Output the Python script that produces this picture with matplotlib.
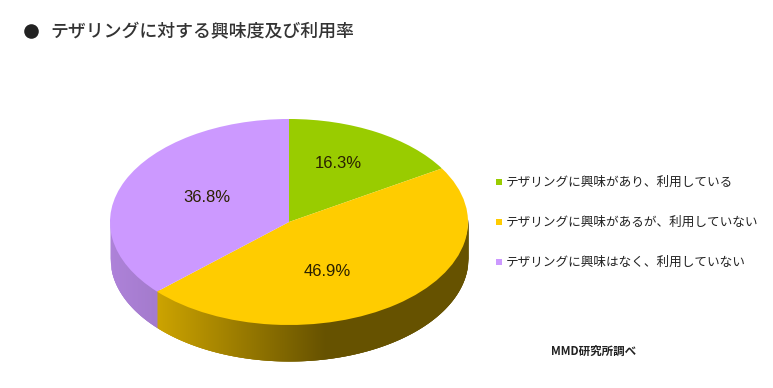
import numpy as np
from matplotlib import pyplot as plt
from matplotlib.colors import to_rgb

plt.rcParams['font.family'] = ['Noto Sans CJK JP', 'DejaVu Sans']

title = "テザリングに対する興味度及び利用率"
labels = ["テザリングに興味があり、利用している",
          "テザリングに興味があるが、利用していない",
          "テザリングに興味はなく、利用していない"]
values = [16.3, 46.9, 36.8]
colors = ["#99CC00", "#FFCC00", "#CC99FF"]
source = "MMD研究所調べ"

# pie geometry in pixels
cx, cy, rx, ry, depth = 289, 222, 179, 103, 36

fig = plt.figure(figsize=(7.73, 3.88), dpi=100)
ax = fig.add_axes([0, 0, 1, 1])
ax.set_xlim(0, 773)
ax.set_ylim(388, 0)
ax.axis("off")


def front_edge(x):
    u = np.clip((x - cx) / rx, -1, 1)
    return cy + ry * np.sqrt(1 - u * u)


# side of the pie, one column at a time for the gradient
edges = np.cumsum(values) / np.sum(values) * 360
for x in np.arange(cx - rx, cx + rx, 1.0):
    u = (x + 0.5 - cx) / rx
    phi = 180 - np.degrees(np.arcsin(u))
    i = min(np.searchsorted(edges, phi), len(values) - 1)
    k = np.interp(x, [110, 157, 325], [0.85, 0.8, 0.4])
    rgb = np.array(to_rgb(colors[i])) * k
    # columns overlap so no white shows through the seams
    xs = np.linspace(x, min(x + 3, cx + rx), 4)
    ax.fill_between(xs, front_edge(xs) - 3, front_edge(xs) + depth, color=rgb, lw=0)

# top face
pie_ax = fig.add_axes([(cx - rx) / 773, 1 - (cy + ry) / 388, 2 * rx / 773, 2 * ry / 388])
pie_ax.pie(values, colors=colors, startangle=90, counterclock=False, radius=1)
pie_ax.set_aspect("auto")
pie_ax.set_xlim(-1, 1)
pie_ax.set_ylim(-1, 1)

# labels sit on a top layer in pixel coords
top_ax = fig.add_axes([0, 0, 1, 1], facecolor="none")
top_ax.set_xlim(0, 773)
top_ax.set_ylim(388, 0)
top_ax.axis("off")

pct_pos = [(338, 163), (327, 271), (207, 197)]
for v, (px, py) in zip(values, pct_pos):
    top_ax.text(px, py, f"{v}%", ha="center", va="center", fontsize=12,
                family="Liberation Sans", color="#2a2000")

top_ax.plot([31], [31], "o", ms=10.5, color="#222222", mew=0)
top_ax.text(50, 32, title, fontsize=12.9, color="#333333", va="center", fontweight="medium")

leg_y = [182, 222, 262]
for lab, col, y in zip(labels, colors, leg_y):
    top_ax.plot([499], [y], "s", ms=5, color=col, mew=0)
    top_ax.text(506, y, lab, fontsize=9.1, color="#222222", va="center")

top_ax.text(551, 351, source, fontsize=8.3, fontweight="bold", color="#222222", va="center")

fig.savefig("out.png", dpi=100)
